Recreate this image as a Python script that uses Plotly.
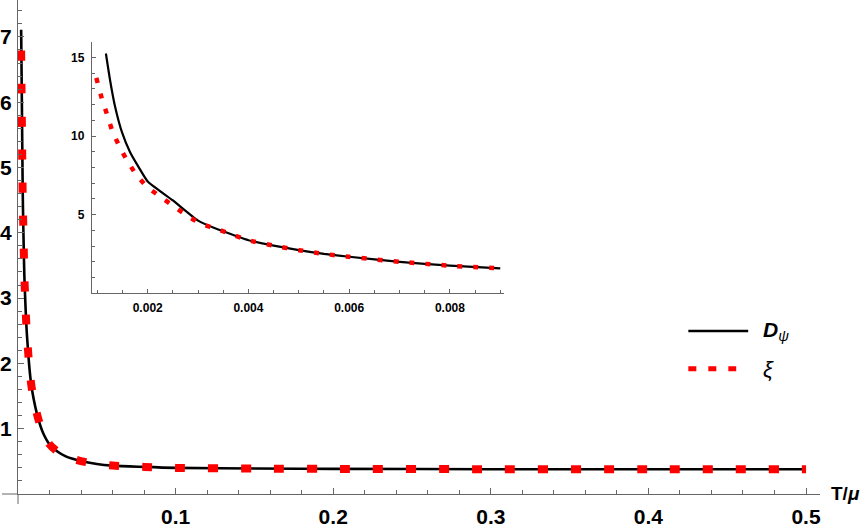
import plotly.graph_objects as go

# ---------------- data ----------------
# D_psi, low-T part (inset region)
T_D_head = [0.00117, 0.00125, 0.00135, 0.00149, 0.00165, 0.00182, 0.002, 0.0025, 0.003]
D_head = [15.25, 13.6, 11.9, 10.23, 8.97, 8.02, 7.11, 5.9, 4.62]

# xi, low-T part (inset region)
T_X_head = [0.00098, 0.00109, 0.00119, 0.00129, 0.00143, 0.00158, 0.00176, 0.00198,
            0.00224, 0.00251, 0.00277, 0.00305]
X_head = [13.7, 12.38, 11.4, 10.4, 9.39, 8.5, 7.6, 6.79, 6.16, 5.55, 4.96, 4.43]

# common tail where both curves coincide
T_tail = [0.0034, 0.0037, 0.004, 0.0045, 0.005, 0.0055, 0.006, 0.007, 0.008, 0.009,
          0.011, 0.013, 0.016, 0.02, 0.025, 0.03, 0.04, 0.05, 0.06, 0.08, 0.1,
          0.15, 0.2, 0.3, 0.4, 0.5]
V_tail = [4.05, 3.7, 3.37, 3.03, 2.74, 2.5, 2.32, 2.0, 1.75, 1.58,
          1.33, 1.14, 0.93, 0.76, 0.65, 0.58, 0.505, 0.46, 0.435, 0.415, 0.40,
          0.39, 0.385, 0.38, 0.38, 0.38]

main_xticks = [0.1, 0.2, 0.3, 0.4, 0.5]
main_yticks = [1, 2, 3, 4, 5, 6, 7]
inset_xticks = [0.002, 0.004, 0.006, 0.008]
inset_yticks = [5, 10, 15]

T_D = T_D_head + T_tail
D = D_head + V_tail
T_X = T_X_head + T_tail
X = X_head + V_tail

T_MAIN_MIN = 0.0019
T_INSET_MAX = 0.00901

def sel(ts, vs, lo=None, hi=None):
    xs, ys = [], []
    for t, v in zip(ts, vs):
        if lo is not None and t < lo:
            continue
        if hi is not None and t > hi:
            continue
        xs.append(t)
        ys.append(v)
    return xs, ys

W, H = 865, 528
L, R, TOP, B = 16, 45, 0, 31
PW, PH = W - L - R, H - TOP - B

def px(xp):
    return (xp - L) / PW

def py(yp):
    return (H - B - yp) / PH

fig = go.Figure()

mxD, myD = sel(T_D, D, lo=T_MAIN_MIN)
mxX, myX = sel(T_X, X, lo=T_MAIN_MIN)
fig.add_trace(go.Scatter(x=mxD, y=myD, mode="lines", name="D",
                         line=dict(color="black", width=2.6, shape="spline", smoothing=0.8),
                         showlegend=False, xaxis="x", yaxis="y"))
fig.add_trace(go.Scatter(x=mxX, y=myX, mode="lines", name="xi",
                         line=dict(color="#ff0000", width=8, dash="10px,23px",
                                   shape="spline", smoothing=0.8),
                         showlegend=False, xaxis="x", yaxis="y"))

ixD, iyD = sel(T_D, D, hi=T_INSET_MAX)
ixX, iyX = sel(T_X, X, hi=T_INSET_MAX)
fig.add_trace(go.Scatter(x=ixD, y=iyD, mode="lines",
                         line=dict(color="black", width=2.2, shape="spline", smoothing=0.5),
                         showlegend=False, xaxis="x2", yaxis="y2"))
fig.add_trace(go.Scatter(x=ixX, y=iyX, mode="lines",
                         line=dict(color="#ff0000", width=4.5, dash="5px,11px",
                                   shape="spline", smoothing=0.5),
                         showlegend=False, xaxis="x2", yaxis="y2"))

axcol = "#666666"
bigfont = dict(family="Liberation Sans, Arial", size=21, color="black", weight="bold")
smallfont = dict(family="Liberation Sans, Arial", size=12, color="black", weight="bold")

fig.update_layout(
    width=W, height=H,
    margin=dict(l=L, r=R, t=TOP, b=B),
    paper_bgcolor="white", plot_bgcolor="rgba(0,0,0,0)",
    xaxis=dict(domain=[0, 1], range=[0, PW / 1580], showgrid=False, zeroline=False,
               showline=True, linecolor=axcol, linewidth=1,
               tickmode="array", tickvals=main_xticks, ticktext=[str(v) for v in main_xticks],
               ticks="inside", ticklen=6, tickcolor=axcol, tickfont=bigfont,
               ticklabelstandoff=4,
               minor=dict(dtick=0.02, tick0=0, ticks="inside", ticklen=4, tickcolor=axcol)),
    yaxis=dict(domain=[0, 1], range=[0, PH / 65.7], showgrid=False, zeroline=False,
               showline=True, linecolor=axcol, linewidth=1,
               tickmode="array", tickvals=main_yticks, ticktext=[str(v) for v in main_yticks],
               ticks="inside", ticklen=6, tickcolor=axcol, tickfont=bigfont,
               ticklabelstandoff=1,
               minor=dict(dtick=0.2, tick0=0, ticks="inside", ticklen=4, tickcolor=axcol)),
    xaxis2=dict(domain=[px(90), px(503)], range=[0.00089, 0.00907], anchor="y2",
                showgrid=False, zeroline=False, showline=True, linecolor=axcol, linewidth=1,
                tickmode="array", tickvals=inset_xticks,
                ticktext=[f"{v:.3f}" for v in inset_xticks],
                ticks="inside", ticklen=4, tickcolor=axcol, tickfont=smallfont,
                ticklabelstandoff=3,
                minor=dict(dtick=0.0005, tick0=0, ticks="inside", ticklen=3, tickcolor=axcol)),
    yaxis2=dict(domain=[py(295), py(42)], range=[0, 16.0], anchor="x2",
                showgrid=False, zeroline=False, showline=True, linecolor=axcol, linewidth=1,
                tickmode="array", tickvals=inset_yticks, ticktext=[str(v) for v in inset_yticks],
                ticks="inside", ticklen=4, tickcolor=axcol, tickfont=smallfont,
                ticklabelstandoff=4,
                minor=dict(dtick=1, tick0=0, ticks="inside", ticklen=3, tickcolor=axcol)),
)

shapes = [
    # axis extensions beyond origin
    dict(type="line", xref="paper", yref="paper", x0=px(0), x1=px(16), y0=0, y1=0,
         line=dict(color=axcol, width=1)),
    dict(type="line", xref="paper", yref="paper", x0=0, x1=0, y0=py(497), y1=py(507),
         line=dict(color=axcol, width=1)),
    # legend samples
    dict(type="line", xref="paper", yref="paper", x0=px(688), x1=px(748),
         y0=py(333), y1=py(333), line=dict(color="black", width=2.5)),
    dict(type="line", xref="paper", yref="paper", x0=px(688), x1=px(736),
         y0=py(371), y1=py(371), line=dict(color="#ff0000", width=5, dash="8px,12px")),
]
fig.update_layout(shapes=shapes)

fig.add_annotation(x=px(761), y=py(333), xref="paper", yref="paper",
                   text="<b><i>D</i></b><sub><i>ψ</i></sub>", showarrow=False,
                   xanchor="left", yanchor="middle",
                   font=dict(family="Liberation Sans, Arial", size=21, color="black"))
fig.add_annotation(x=px(761), y=py(372), xref="paper", yref="paper",
                   text="<i>ξ</i>", showarrow=False, xanchor="left", yanchor="middle",
                   font=dict(family="Liberation Sans, Arial", size=22, color="black"))
fig.add_annotation(x=px(862), y=py(496), xref="paper", yref="paper",
                   text="<b>T/<i>μ</i></b>", showarrow=False, xanchor="right", yanchor="middle",
                   font=dict(family="Liberation Sans, Arial", size=19, color="black"))

fig.write_html("out.html")
